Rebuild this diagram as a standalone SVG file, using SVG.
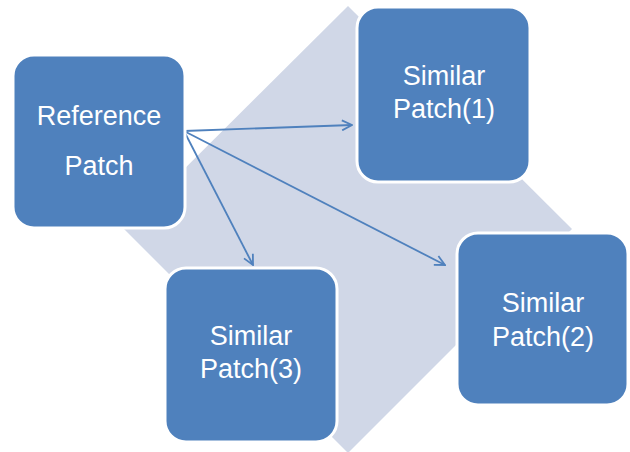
<svg xmlns="http://www.w3.org/2000/svg" width="630" height="452" viewBox="0 0 630 452">
<style>
.box{fill:#4F81BD;stroke:#FFFFFF;stroke-width:3}
.lbl{fill:#FFFFFF;font-family:"Liberation Sans",Arial,sans-serif;font-size:27px;text-anchor:middle}
.conn{stroke:#4F81BD;stroke-width:1.8;fill:none;marker-end:url(#arr)}
</style>
<defs>
<marker id="arr" viewBox="0 0 12 12" refX="11" refY="6" markerWidth="12" markerHeight="12" markerUnits="userSpaceOnUse" orient="auto">
<path d="M1,1 L11,6 L1,11" fill="none" stroke="#4F81BD" stroke-width="1.8"/>
</marker>
</defs>
<rect width="630" height="452" fill="#FFFFFF"/>
<polygon id="backdrop" points="348,6 572,229 348,453 124,229" fill="#D0D7E7"/>
<g id="connectors">
<line class="conn" x1="184" y1="131" x2="352" y2="125"/>
<line class="conn" x1="184" y1="131" x2="445" y2="265"/>
<line class="conn" x1="184" y1="131" x2="253" y2="265"/>
</g>
<g id="reference">
<rect class="box" x="13" y="55" width="172" height="173" rx="21"/>
<text class="lbl" x="99" y="125">Reference</text>
<text class="lbl" x="99" y="175">Patch</text>
</g>
<g id="similar1">
<rect class="box" x="357" y="7" width="173" height="175" rx="21"/>
<text class="lbl" x="444" y="85">Similar</text>
<text class="lbl" x="444" y="118">Patch(1)</text>
</g>
<g id="similar2">
<rect class="box" x="457" y="233" width="171" height="172" rx="21"/>
<text class="lbl" x="543" y="312">Similar</text>
<text class="lbl" x="543" y="346">Patch(2)</text>
</g>
<g id="similar3">
<rect class="box" x="165" y="268" width="172" height="174" rx="21"/>
<text class="lbl" x="251" y="345">Similar</text>
<text class="lbl" x="251" y="378">Patch(3)</text>
</g>
</svg>
